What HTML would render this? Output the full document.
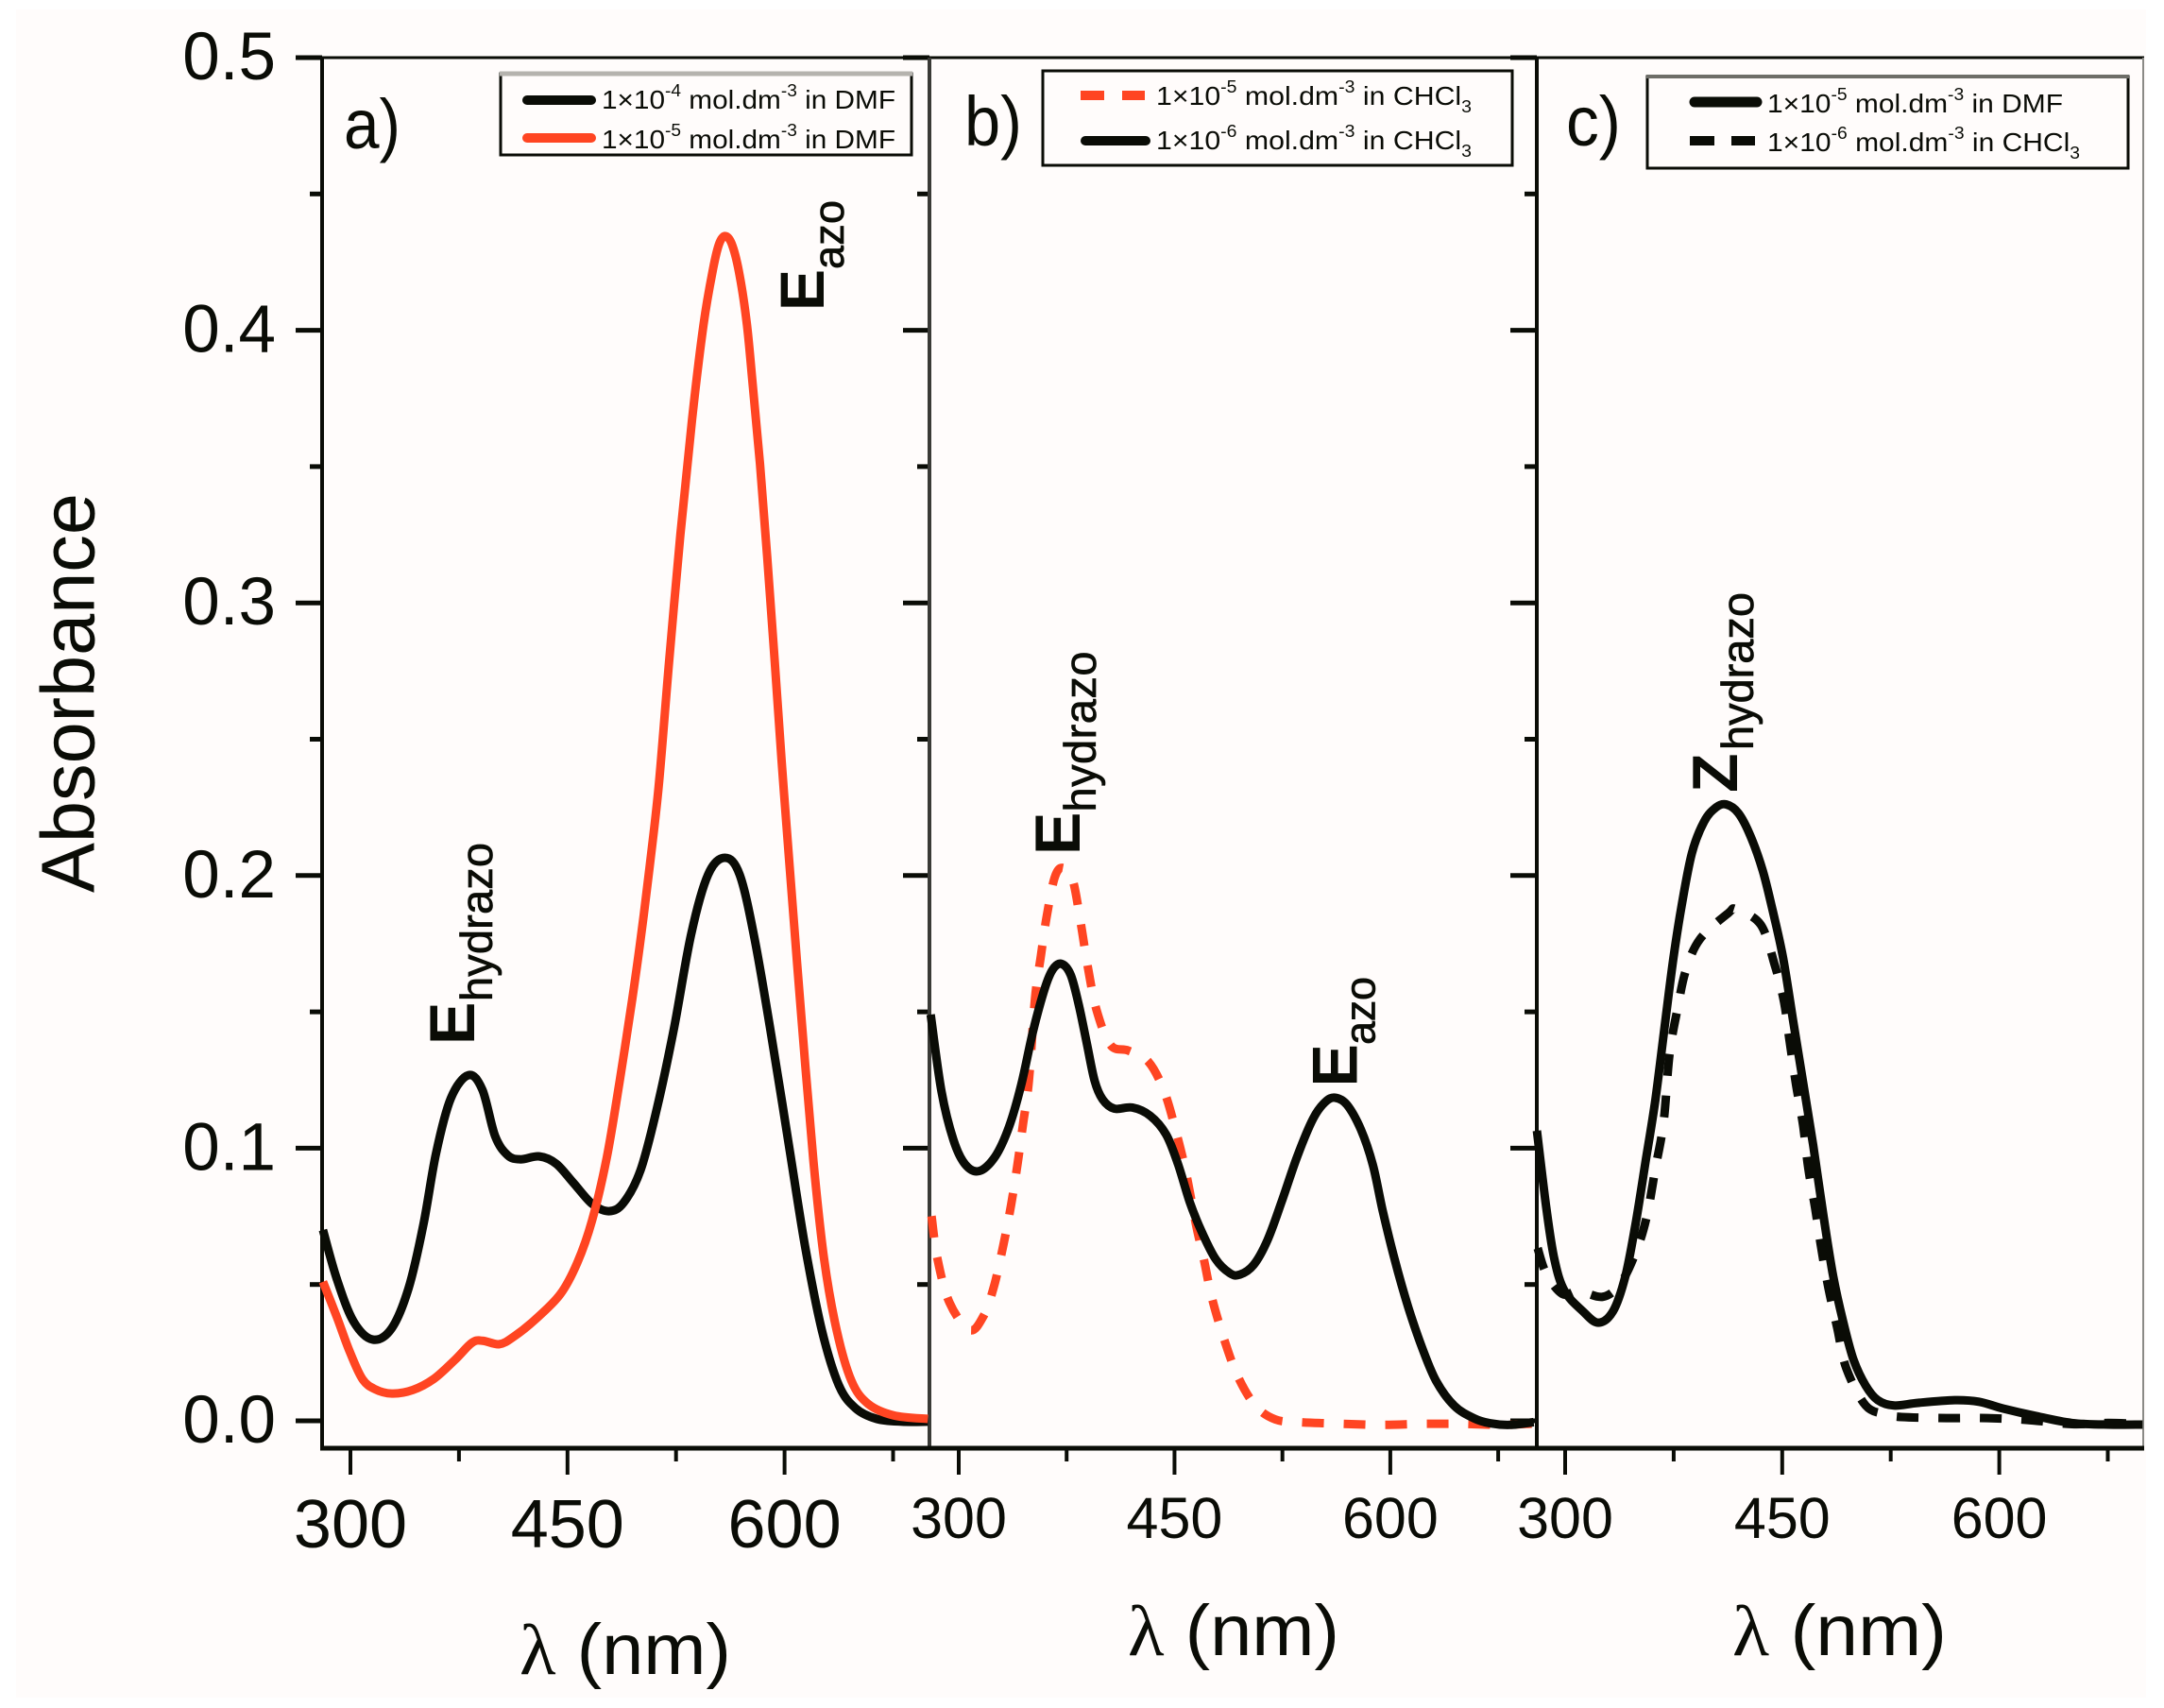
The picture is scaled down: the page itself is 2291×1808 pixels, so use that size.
<!DOCTYPE html>
<html lang="en">
<head>
<meta charset="utf-8">
<title>Absorbance spectra</title>
<style>
html,body{margin:0;padding:0;background:#fff}
svg{display:block;font-family:"Liberation Sans",sans-serif}
text{fill:#0a0c06}
</style>
</head>
<body>
<svg id="chart" xmlns="http://www.w3.org/2000/svg" width="2291" height="1808" viewBox="0 0 2291 1808">
  <rect x="17" y="10" width="2255" height="1787" fill="#fffcfb"/>
  <g id="axes"></g>
  <g id="series"></g>

  <text transform="translate(99.5 945) rotate(-90)" font-size="80" textLength="423" lengthAdjust="spacingAndGlyphs">Absorbance</text>

  <text x="364" y="157" font-size="74" textLength="60" lengthAdjust="spacingAndGlyphs">a)</text>
  <text x="1021" y="154" font-size="74" textLength="61" lengthAdjust="spacingAndGlyphs">b)</text>
  <text x="1658" y="154" font-size="74" textLength="58" lengthAdjust="spacingAndGlyphs">c)</text>

  <g font-size="76">
    <text x="550" y="1772" textLength="224" lengthAdjust="spacingAndGlyphs"><tspan font-family="Liberation Serif">λ</tspan> (nm)</text>
    <text x="1194" y="1752" textLength="224" lengthAdjust="spacingAndGlyphs"><tspan font-family="Liberation Serif">λ</tspan> (nm)</text>
    <text x="1834" y="1752" textLength="227" lengthAdjust="spacingAndGlyphs"><tspan font-family="Liberation Serif">λ</tspan> (nm)</text>
  </g>

  <g>
    <text transform="translate(872 329) rotate(-90)" font-size="66" font-weight="bold">E</text>
    <text transform="translate(893 285) rotate(-90)" font-size="45" stroke="#0a0c06" stroke-width="0.7" textLength="73">azo</text>
  </g>
  <g>
    <text transform="translate(502 1106) rotate(-90)" font-size="68" font-weight="bold">E</text>
    <text transform="translate(521 1060) rotate(-90)" font-size="47" stroke="#0a0c06" stroke-width="0.7" textLength="168">hydrazo</text>
  </g>
  <g>
    <text transform="translate(1143 905) rotate(-90)" font-size="68" font-weight="bold">E</text>
    <text transform="translate(1160 859.5) rotate(-90)" font-size="47" stroke="#0a0c06" stroke-width="0.7" textLength="170">hydrazo</text>
  </g>
  <g>
    <text transform="translate(1436.6 1150.5) rotate(-90)" font-size="68" font-weight="bold">E</text>
    <text transform="translate(1455.6 1106) rotate(-90)" font-size="45" stroke="#0a0c06" stroke-width="0.7" textLength="72">azo</text>
  </g>
  <g>
    <text transform="translate(1839 839) rotate(-90)" font-size="68" font-weight="bold">Z</text>
    <text transform="translate(1856 794) rotate(-90)" font-size="47" stroke="#0a0c06" stroke-width="0.7" textLength="167">hydrazo</text>
  </g>

  <g>
    <rect x="530" y="78" width="435" height="86" fill="none" stroke="#0a0c06" stroke-width="3"/>
    <line x1="529" y1="78" x2="966" y2="78" stroke="#b5b3ae" stroke-width="5"/>
    <line x1="558" y1="106" x2="626" y2="106" stroke="#0a0c06" stroke-width="10" stroke-linecap="round"/>
    <text x="637" y="115" font-size="28" textLength="311" lengthAdjust="spacingAndGlyphs">1×10<tspan dy="-13" font-size="18">-4</tspan><tspan dy="13"> mol.dm</tspan><tspan dy="-13" font-size="18">-3</tspan><tspan dy="13"> in DMF</tspan></text>
    <line x1="558" y1="146" x2="626" y2="146" stroke="#ff4522" stroke-width="10" stroke-linecap="round"/>
    <text x="637" y="157" font-size="28" textLength="311" lengthAdjust="spacingAndGlyphs">1×10<tspan dy="-13" font-size="18">-5</tspan><tspan dy="13"> mol.dm</tspan><tspan dy="-13" font-size="18">-3</tspan><tspan dy="13"> in DMF</tspan></text>
  </g>

  <g>
    <rect x="1104" y="75" width="497" height="100" fill="none" stroke="#0a0c06" stroke-width="3"/>
    <line x1="1144" y1="101" x2="1212" y2="101" stroke="#ff4522" stroke-width="10" stroke-dasharray="25 19"/>
    <text x="1224" y="111" font-size="28" textLength="334" lengthAdjust="spacingAndGlyphs">1×10<tspan dy="-13" font-size="18">-5</tspan><tspan dy="13"> mol.dm</tspan><tspan dy="-13" font-size="18">-3</tspan><tspan dy="13"> in CHCl</tspan><tspan dy="8" font-size="18">3</tspan></text>
    <line x1="1149" y1="149" x2="1213" y2="149" stroke="#0a0c06" stroke-width="10" stroke-linecap="round"/>
    <text x="1224" y="158" font-size="28" textLength="334" lengthAdjust="spacingAndGlyphs">1×10<tspan dy="-13" font-size="18">-6</tspan><tspan dy="13"> mol.dm</tspan><tspan dy="-13" font-size="18">-3</tspan><tspan dy="13"> in CHCl</tspan><tspan dy="8" font-size="18">3</tspan></text>
  </g>

  <g>
    <rect x="1744" y="81" width="509" height="97" fill="none" stroke="#0a0c06" stroke-width="3"/>
    <line x1="1743" y1="81" x2="2254" y2="81" stroke="#6e6e68" stroke-width="4"/>
    <line x1="1794" y1="108" x2="1860" y2="108" stroke="#0a0c06" stroke-width="11" stroke-linecap="round"/>
    <text x="1871" y="119" font-size="28" textLength="313" lengthAdjust="spacingAndGlyphs">1×10<tspan dy="-13" font-size="18">-5</tspan><tspan dy="13"> mol.dm</tspan><tspan dy="-13" font-size="18">-3</tspan><tspan dy="13"> in DMF</tspan></text>
    <line x1="1789" y1="149" x2="1858" y2="149" stroke="#0a0c06" stroke-width="10" stroke-dasharray="26 18"/>
    <text x="1871" y="160" font-size="28" textLength="331" lengthAdjust="spacingAndGlyphs">1×10<tspan dy="-13" font-size="18">-6</tspan><tspan dy="13"> mol.dm</tspan><tspan dy="-13" font-size="18">-3</tspan><tspan dy="13"> in CHCl</tspan><tspan dy="8" font-size="18">3</tspan></text>
  </g>
</svg>

<script>
// Axis tick data
const yMajorTicks = [0, 0.1, 0.2, 0.3, 0.4, 0.5];
const yMajorLabels = ['0.0', '0.1', '0.2', '0.3', '0.4', '0.5'];
const yMinorTicks = [0.05, 0.15, 0.25, 0.35, 0.45];
const xMajorTicks = [300, 450, 600];
const xMajorLabels = ['300', '450', '600'];
const xMinorTicks = [375, 525, 675];

// Panel a, 1e-4 mol/dm3 in DMF
const aBlackNm = [281,290.7,302.3,315.5,328.6,340.2,350.4,359.2,369.4,381.6,391.2,400,408.7,417.4,430.6,442.2,453.9,467,478.6,488.8,500.5,512.1,523.8,535.5,547.1,558.8,569,579.2,590.8,602.5,614.1,625.8,637.5,649.1,663.7,681.2,699];
const aBlackAbs = [0.0700,0.0518,0.0363,0.0298,0.0340,0.0487,0.0719,0.0982,0.1183,0.1268,0.1214,0.1044,0.0974,0.0959,0.0970,0.0943,0.0874,0.0796,0.0769,0.0800,0.0920,0.1152,0.1446,0.1786,0.2003,0.2065,0.2003,0.1771,0.1415,0.1028,0.0642,0.0332,0.0131,0.0046,0.0007,-0.0003,-0.0003];

// Panel a, 1e-5 mol/dm3 in DMF
const aRedNm = [281,290.7,299.4,308.2,316.9,328.6,343.1,357.7,372.3,383.9,391.2,402.9,413,427.6,445,456.8,467,477.2,486,494.7,501,506.7,513,520,528,536,544,550.6,555,559.4,564,569,574,578,583,588,593,598,603.5,611.5,620,627.3,636,646.2,657.8,675.3,699];
const aRedAbs = [0.0510,0.0379,0.0255,0.0154,0.0116,0.0100,0.0113,0.0154,0.0224,0.0286,0.0294,0.0281,0.0309,0.0371,0.0464,0.0580,0.0735,0.0967,0.1245,0.1545,0.1785,0.2030,0.2326,0.2770,0.3250,0.3670,0.4020,0.4225,0.4320,0.4345,0.4310,0.4200,0.4020,0.3800,0.3510,0.3170,0.2800,0.2420,0.2032,0.1490,0.0951,0.0595,0.0332,0.0147,0.0062,0.0020,0.0007];

// Panel b, 1e-5 mol/dm3 in CHCl3 (dashed red)
const bRedNm = [281.1,285.3,293.6,307.4,317.1,324.5,330.9,336.4,341.1,344.7,348.8,353,357.1,361.3,366.8,372.3,379.2,384.8,389.7,395.8,405.5,417.9,431.7,442.8,451.6,458,464.9,470.4,475.9,484.2,493.9,506.3,520.1,536.7,567.1,594.7,622.4,650,677.6,699];
const bRedAbs = [0.0751,0.0592,0.0433,0.0333,0.0383,0.0493,0.0642,0.0791,0.0950,0.1089,0.1248,0.1547,0.1706,0.1855,0.1994,0.2028,0.1984,0.1825,0.1666,0.1507,0.1378,0.1358,0.1318,0.1209,0.1050,0.0910,0.0721,0.0592,0.0453,0.0304,0.0164,0.0055,0.0005,-0.0005,-0.0011,-0.0015,-0.0011,-0.0011,-0.0015,-0.0010];

// Panel b, 1e-6 mol/dm3 in CHCl3 (solid black)
const bBlackNm = [280.5,288,296.3,304.6,314.3,325.4,335,343.3,351.6,359.9,365.4,371.5,377.8,383.4,388.9,394.4,400,408.2,420.7,433.1,444.2,452.5,460.7,469,478.7,488.4,495.3,505,514.6,524.3,535.3,546.4,554.7,561.6,569.9,579.5,587.8,594.7,603,612.7,622.4,632,644.5,658.3,669.3,683.2,699.7];
const bBlackAbs = [0.1490,0.1209,0.1030,0.0940,0.0916,0.0970,0.1079,0.1229,0.1428,0.1587,0.1656,0.1676,0.1636,0.1527,0.1388,0.1248,0.1179,0.1145,0.1149,0.1119,0.1050,0.0940,0.0801,0.0692,0.0592,0.0542,0.0536,0.0572,0.0662,0.0801,0.0970,0.1109,0.1169,0.1185,0.1159,0.1069,0.0940,0.0771,0.0592,0.0413,0.0264,0.0145,0.0055,0.0009,-0.0009,-0.0015,-0.0005];

// Panel c, 1e-5 mol/dm3 in DMF (solid)
const cSolidNm = [280.5,287,292.6,299.6,312.2,322.8,333.1,341.5,348.5,355.5,362.4,369.4,375,380.6,387.6,396,404.3,411.3,419.7,428.1,436.5,443.4,450.4,457.4,464.4,471.4,478.3,485.3,492.3,499.3,507.7,516,527.2,544,569.1,585.9,602.6,625,650.1,675.2,699];
const cSolidAbs = [0.1064,0.0780,0.0591,0.0476,0.0402,0.0360,0.0402,0.0528,0.0717,0.0948,0.1179,0.1473,0.1704,0.1893,0.2082,0.2198,0.2250,0.2261,0.2229,0.2145,0.2019,0.1872,0.1704,0.1473,0.1242,0.1011,0.0759,0.0528,0.0360,0.0224,0.0129,0.0076,0.0056,0.0066,0.0076,0.0070,0.0045,0.0018,-0.0008,-0.0014,-0.0014];

// Panel c, 1e-6 mol/dm3 in CHCl3 (dashed)
const cDashNm = [281,287,298.2,309.4,326.1,338.7,349.9,356.8,362.4,368,372.2,377.8,383.4,393.2,412.7,418.3,435.1,444.8,451.3,455.2,459.6,464.4,468,472.8,477,482,488.1,494.3,507.7,521.6,532.8,563.5,591.5,619.4,650.1,675.2,699];
const cDashAbs = [0.0633,0.0539,0.0465,0.0476,0.0455,0.0507,0.0633,0.0759,0.0927,0.1095,0.1347,0.1515,0.1652,0.1767,0.1862,0.1876,0.1820,0.1673,0.1536,0.1389,0.1232,0.1085,0.0927,0.0780,0.0633,0.0486,0.0339,0.0192,0.0056,0.0024,0.0014,0.0010,0.0010,0.0003,-0.0012,-0.0008,-0.0012];

const SVG_NS = 'http://www.w3.org/2000/svg';
const INK = '#0a0c06';
const RED = '#ff4522';
const Y_ZERO = 1504;
const Y_PER_UNIT = 2886;
const AXIS_TOP = 61;
const AXIS_BOTTOM = 1533;

function yPos(value) { return Y_ZERO - value * Y_PER_UNIT; }
function xScale(x300, pxPerNm) { return function (nm) { return x300 + (nm - 300) * pxPerNm; }; }

const xA = xScale(371, 1.532);
const xB = xScale(1015, 1.523);
const xC = xScale(1657, 1.532);

const axesLayer = document.getElementById('axes');
const seriesLayer = document.getElementById('series');

function make(tag, attrs, parent) {
  const el = document.createElementNS(SVG_NS, tag);
  Object.keys(attrs).forEach(function (k) { el.setAttribute(k, attrs[k]); });
  parent.appendChild(el);
  return el;
}

function smoothPath(pts) {
  let d = 'M' + pts[0][0].toFixed(1) + ' ' + pts[0][1].toFixed(1);
  for (let i = 0; i < pts.length - 1; i++) {
    const p0 = pts[Math.max(i - 1, 0)], p1 = pts[i], p2 = pts[i + 1], p3 = pts[Math.min(i + 2, pts.length - 1)];
    const c1x = p1[0] + (p2[0] - p0[0]) / 6, c1y = p1[1] + (p2[1] - p0[1]) / 6;
    const c2x = p2[0] - (p3[0] - p1[0]) / 6, c2y = p2[1] - (p3[1] - p1[1]) / 6;
    d += 'C' + c1x.toFixed(1) + ' ' + c1y.toFixed(1) + ' ' + c2x.toFixed(1) + ' ' + c2y.toFixed(1) + ' ' + p2[0].toFixed(1) + ' ' + p2[1].toFixed(1);
  }
  return d;
}

function drawSeries(name, xFn, nms, values, color, width, dash) {
  const pts = nms.map(function (nm, i) { return [xFn(nm), yPos(values[i])]; });
  const attrs = { d: smoothPath(pts), fill: 'none', stroke: color, 'stroke-width': width, 'stroke-linejoin': 'round' };
  if (dash) { attrs['stroke-dasharray'] = dash; }
  const path = make('path', attrs, seriesLayer);
  
  
}

function drawXAxis(name, xFn, fontSize, baseline) {
  xMajorTicks.forEach(function (nm, i) {
    const tick = make('line', { x1: xFn(nm), x2: xFn(nm), y1: AXIS_BOTTOM, y2: 1561, stroke: INK, 'stroke-width': 4 }, axesLayer);
    
    
    const label = make('text', { x: xFn(nm), y: baseline, 'font-size': fontSize, 'text-anchor': 'middle' }, axesLayer);
    label.textContent = xMajorLabels[i];
    
    
  });
  xMinorTicks.forEach(function (nm) {
    const tick = make('line', { x1: xFn(nm), x2: xFn(nm), y1: AXIS_BOTTOM, y2: 1547, stroke: INK, 'stroke-width': 4 }, axesLayer);
    
    
  });
}

function drawYTicks(name, axisX) {
  yMajorTicks.forEach(function (v) {
    const tick = make('line', { x1: axisX - 28, x2: axisX, y1: yPos(v), y2: yPos(v), stroke: INK, 'stroke-width': 5 }, axesLayer);
    
    
  });
  yMinorTicks.forEach(function (v) {
    const tick = make('line', { x1: axisX - 13, x2: axisX, y1: yPos(v), y2: yPos(v), stroke: INK, 'stroke-width': 5 }, axesLayer);
    
    
  });
}

function drawFrameLine(name, x1, y1, x2, y2, color, width) {
  const line = make('line', { x1: x1, y1: y1, x2: x2, y2: y2, stroke: color, 'stroke-width': width }, axesLayer);
  
  
}

drawYTicks('y-axis-a', 341);
drawYTicks('y-axis-b', 984);
drawYTicks('y-axis-c', 1627);
yMajorTicks.forEach(function (v, i) {
  const label = make('text', { x: 292, y: yPos(v) + 23, 'font-size': 71, 'text-anchor': 'end' }, axesLayer);
  label.textContent = yMajorLabels[i];
  
  
});
drawXAxis('x-axis-a', xA, 72, 1638);
drawXAxis('x-axis-b', xB, 61, 1628);
drawXAxis('x-axis-c', xC, 61, 1628);

drawSeries('series-a-1e-4-dmf', xA, aBlackNm, aBlackAbs, INK, 9);
drawSeries('series-a-1e-5-dmf', xA, aRedNm, aRedAbs, RED, 9);
drawSeries('series-b-1e-5-chcl3', xB, bRedNm, bRedAbs, RED, 9, '23 21');
drawSeries('series-b-1e-6-chcl3', xB, bBlackNm, bBlackAbs, INK, 9);
drawSeries('series-c-1e-5-dmf', xC, cSolidNm, cSolidAbs, INK, 9);
drawSeries('series-c-1e-6-chcl3', xC, cDashNm, cDashAbs, INK, 9, '23 21');

drawFrameLine('plot-top-border', 341, AXIS_TOP, 2270, AXIS_TOP, INK, 3);
drawFrameLine('panel-a-left-axis', 341, AXIS_TOP, 341, AXIS_BOTTOM, INK, 4);
drawFrameLine('panel-a-b-divider', 984, AXIS_TOP, 984, AXIS_BOTTOM, '#3a3a36', 4);
drawFrameLine('panel-b-c-divider', 1627, AXIS_TOP, 1627, AXIS_BOTTOM, INK, 4);
drawFrameLine('plot-right-border', 2269, AXIS_TOP, 2269, AXIS_BOTTOM + 2, '#8a8a86', 2);
drawFrameLine('plot-bottom-axis', 339, AXIS_BOTTOM, 2270, AXIS_BOTTOM, INK, 5);
</script>
</body>
</html>
